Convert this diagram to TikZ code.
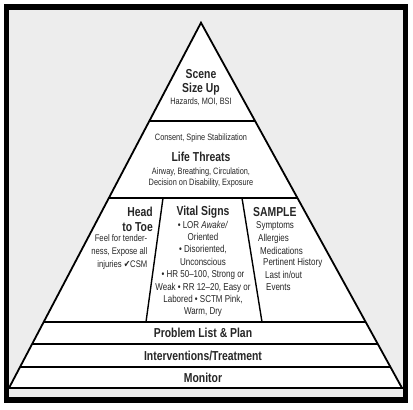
\documentclass[tikz,border=0pt]{standalone}
\usepackage{fontspec}
\setmainfont{Liberation Sans}[FakeStretch=0.8]
\newfontfamily\checkfont{DejaVu Sans}[FakeStretch=0.8]
\usetikzlibrary{calc}
\definecolor{bggrey}{gray}{0.93}
\definecolor{ink}{gray}{0.15}
\begin{document}
\begin{tikzpicture}[x=1pt, y=-1pt]
            \tikzstyle{frame} = [fill=black]
            \tikzstyle{edge} = [line width=1.8pt, line join=miter]
            \tikzstyle{band} = [line width=1.4pt]
            \tikzstyle{head} = [text=ink, font=\fontsize{13}{14}\selectfont\bfseries, inner sep=0pt]
            \tikzstyle{small} = [text=ink, font=\fontsize{9.2}{11.5}\selectfont, inner sep=0pt]
            \tikzstyle{body} = [text=ink, font=\fontsize{10}{12.4}\selectfont, inner sep=0pt]
            \useasboundingbox (0, 0) rectangle (413, 410);
            \fill[white] (0, 0) rectangle (413, 410);
            \fill[frame] (4, 4) rectangle (408, 403);
            \fill[bggrey] (9, 10) rectangle (403, 397);
            \coordinate (apex) at (201, 22.7);
            \coordinate (bl) at (9, 388);
            \coordinate (br) at (402, 388);
            \fill[white] (apex) -- (bl) -- (br) -- cycle;
            % bands across the pyramid
            \foreach \y/\n in {121/a, 198/b, 322/c, 344/d, 367/e} {
                \coordinate (l\n) at ($(apex)!{(\y-22.7)/365.3}!(bl)$);
                \coordinate (r\n) at ($(apex)!{(\y-22.7)/365.3}!(br)$);
                \draw[band] (l\n) -- (r\n);
            }
            \draw[band] (9, 388) -- (403, 388);
            \draw[edge] (bl) -- (apex) -- (br);
            % dividers of the middle band
            \coordinate (d1t) at (163, 198);
            \coordinate (d1b) at (146, 322);
            \coordinate (d2t) at (242, 198);
            \coordinate (d2b) at (262, 322);
            \draw[band] (d1t) -- (d1b);
            \draw[band] (d2t) -- (d2b);
            % top
            \node[head, align=center] (scene) at (201, 82.5) {Scene\\Size Up};
            \node[small] (hazards) at (201, 101.5) {Hazards, MOI, BSI};
            % life threats
            \node[small] (consent) at (201, 138) {Consent, Spine Stabilization};
            \node[head] (threats) at (201, 157) {Life Threats};
            \node[small, align=center] (airway) at (201, 177.5) {Airway, Breathing, Circulation,\\Decision on Disability, Exposure};
            % head to toe
            \node[head, align=right, anchor=east, font=\fontsize{13}{15}\selectfont\bfseries] (toe) at (153, 219.5) {Head\\to Toe};
            \node[body, align=right, anchor=east, font=\fontsize{9.6}{12.8}\selectfont] (feel) at (147.5, 252) {Feel for tender-\\ness, Expose all\\injuries {\checkfont ✔}CSM};
            % vital signs
            \node[head] (vital) at (203, 212) {Vital Signs};
            \node[body, align=center] (signs) at (203, 269) {• LOR \textit{Awake/}\\Oriented\\• Disoriented,\\Unconscious\\• HR 50–100, Strong or\\Weak • RR 12–20, Easy or\\Labored • SCTM Pink,\\Warm, Dry};
            % sample
            \node[head, anchor=west] (sample) at (253, 212) {SAMPLE};
            \foreach \txt/\x/\y [count=\i] in {Symptoms/256/226, Allergies/258/238.5, Medications/260/250.5, Pertinent History/263/263, Last in\slash out/265/275, Events/266/287.5}
                \node[body, anchor=west] (s\i) at (\x, \y) {\txt};
            % bottom bands
            \node[head] (plan) at (203, 333) {Problem List \& Plan};
            \node[head] (treat) at (203, 356) {Interventions/Treatment};
            \node[head] (monitor) at (203, 378) {Monitor};
        \end{tikzpicture}
\end{document}
